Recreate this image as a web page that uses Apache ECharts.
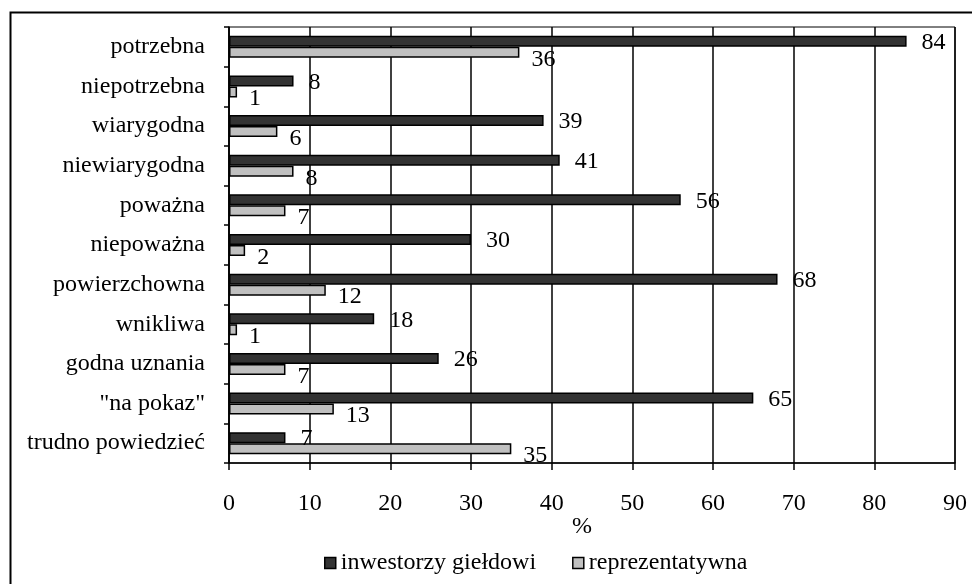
<!DOCTYPE html>
<html>
<head>
<meta charset="utf-8">
<script src="https://cdn.jsdelivr.net/npm/echarts@6/dist/echarts.min.js"></script>
<style>
  html, body { margin: 0; padding: 0; background: #fff; }
  #chart { width: 972px; height: 584px; }
</style>
</head>
<body>
<div id="chart"></div>
<script>
// Opinion categories, top to bottom
const categories = [
  'potrzebna', 'niepotrzebna', 'wiarygodna', 'niewiarygodna', 'poważna',
  'niepoważna', 'powierzchowna', 'wnikliwa', 'godna uznania', '"na pokaz"',
  'trudno powiedzieć'
];
// Percentages for each group
const investors = [84, 8, 39, 41, 56, 30, 68, 18, 26, 65, 7];
const representative = [36, 1, 6, 8, 7, 2, 12, 1, 7, 13, 35];
const seriesNames = ['inwestorzy giełdowi', 'reprezentatywna'];
const axisTitle = '%';

const FONT = 'Liberation Serif';
const FS = 24;

const chart = echarts.init(document.getElementById('chart'), null, { renderer: 'canvas' });

chart.setOption({
  animation: false,
  backgroundColor: '#ffffff',
  textStyle: { fontFamily: FONT, color: '#000' },
  graphic: [{
    type: 'rect',
    left: 8, top: 10,
    shape: { width: 1000, height: 620 },
    style: { fill: 'none', stroke: '#000', lineWidth: 2 },
    silent: true, z: -1
  }],
  grid: {
    left: 229, top: 27, right: 17, bottom: 121,
    show: true, borderColor: '#000', borderWidth: 1,
    containLabel: false
  },
  legend: {
    left: 319, top: 546,
    itemWidth: 11, itemHeight: 11, itemGap: 36,
    icon: 'rect',
    textStyle: { fontFamily: FONT, fontSize: FS, color: '#000' },
    itemStyle: { borderColor: '#000', borderWidth: 1.5 },
    data: seriesNames
  },
  xAxis: {
    type: 'value', min: 0, max: 90, interval: 10,
    name: axisTitle, nameLocation: 'middle', nameGap: 52, nameMoveOverlap: false,
    nameTextStyle: { fontFamily: FONT, fontSize: FS, color: '#000', padding: [0, 20, 0, 0] },
    axisLine: { show: true, lineStyle: { color: '#000', width: 1.5 } },
    axisTick: { show: true, length: 7, lineStyle: { color: '#000', width: 1.5 } },
    axisLabel: { fontFamily: FONT, fontSize: FS, color: '#000', margin: 29 },
    splitLine: { show: true, lineStyle: { color: '#000', width: 1.5 } }
  },
  yAxis: {
    type: 'category', data: categories, inverse: true,
    axisLine: { show: true, lineStyle: { color: '#000', width: 1.5 } },
    axisTick: { show: true, length: 5, lineStyle: { color: '#000', width: 1.5 } },
    axisLabel: { fontFamily: FONT, fontSize: FS, color: '#000', margin: 24 }
  },
  series: [
    {
      name: seriesNames[0], type: 'bar', data: investors,
      barWidth: 11, barGap: '0%',
      itemStyle: { color: '#333333', borderColor: '#000', borderWidth: 1.5 },
      label: { show: true, position: 'right', distance: 15, offset: [0, 1.5],
        fontFamily: FONT, fontSize: FS, color: '#000' }
    },
    {
      name: seriesNames[1], type: 'bar', data: representative,
      barWidth: 11, barGap: '0%',
      itemStyle: { color: '#c0c0c0', borderColor: '#000', borderWidth: 1.5 },
      label: { show: true, position: 'right', distance: 12, offset: [0, 7],
        fontFamily: FONT, fontSize: FS, color: '#000' }
    }
  ]
});
</script>
</body>
</html>
